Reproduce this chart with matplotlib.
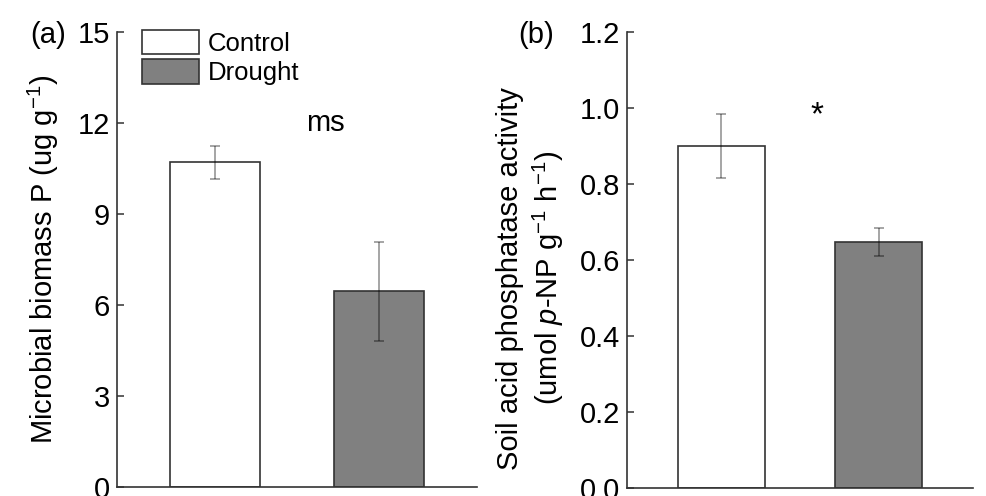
import matplotlib
matplotlib.use("Agg")
import matplotlib.pyplot as plt
from matplotlib.patches import Patch

plt.rcParams['font.family'] = ['Liberation Sans', 'DejaVu Sans']
plt.rcParams['mathtext.fontset'] = 'custom'
plt.rcParams['mathtext.rm'] = 'Liberation Sans'
plt.rcParams['mathtext.it'] = 'Liberation Sans:italic'

treatments = ["Control", "Drought"]
colors = ["white", "#808080"]

mbp_mean = [10.70, 6.45]
mbp_err = [0.55, 1.64]

acp_mean = [0.90, 0.648]
acp_err = [0.085, 0.037]

fig = plt.figure(figsize=(9.87, 4.96), dpi=100)
W, H = 987, 496
ax1 = fig.add_axes([117 / W, 1 - 487 / H, 360 / W, 455 / H])
ax2 = fig.add_axes([627 / W, 1 - 488 / H, 346 / W, 456 / H])

edge = "#333333"
ecol = (0, 0, 0, 0.38)
xs = [1, 2]
FS = 21

def style(ax, ylim, ticks, labels):
    ax.set_xlim(0.4, 2.6)
    ax.set_ylim(*ylim)
    ax.set_yticks(ticks)
    ax.set_yticklabels(labels)
    ax.set_xticks([])
    for s in ["top", "right"]:
        ax.spines[s].set_visible(False)
    for s in ["left", "bottom"]:
        ax.spines[s].set_color(edge)
        ax.spines[s].set_linewidth(1.2)
    ax.tick_params(axis='y', direction='in', length=5, width=1.1, color=edge,
                   labelsize=FS, pad=5)
    ax.patch.set_alpha(0)

for ax, means, errs in [(ax1, mbp_mean, mbp_err), (ax2, acp_mean, acp_err)]:
    ax.bar(xs, means, width=0.55, color=colors, edgecolor=edge, linewidth=1.2, zorder=2)
    ax.errorbar(xs, means, yerr=errs, fmt='none', ecolor=ecol, elinewidth=1.3,
                capsize=3.5, capthick=1.3, zorder=3)

style(ax1, (0, 15), [0, 3, 6, 9, 12, 15], ["0", "3", "6", "9", "12", "15"])
style(ax2, (0, 1.2), [0, 0.2, 0.4, 0.6, 0.8, 1.0, 1.2],
      ["0.0", "0.2", "0.4", "0.6", "0.8", "1.0", "1.2"])

ax1.set_ylabel("Microbial biomass P (ug g$^{-1}$)", fontsize=FS)
ax1.yaxis.set_label_coords((61 - 117) / 360, 0.5)
ax2.set_ylabel("Soil acid phosphatase activity\n(umol $\\mathit{p}$-NP g$^{-1}$ h$^{-1}$)",
               fontsize=FS, linespacing=1.25)
ax2.yaxis.set_label_coords((566 - 627) / 346, 0.46)

ax1.text(1.675, 12.0, "ms", fontsize=FS, ha='center', va='center')
ax2.text(1.607, 0.98, "*", fontsize=FS + 3, ha='center', va='center')

fig.text(30 / W, 1 - 35 / H, "(a)", fontsize=FS, ha='left', va='center')
fig.text(518 / W, 1 - 35 / H, "(b)", fontsize=FS, ha='left', va='center')

handles = [Patch(facecolor=c, edgecolor=edge, linewidth=1.2) for c in colors]
fig.legend(handles, treatments, loc='upper left',
           bbox_to_anchor=(142 / W, 1 - 30 / H), bbox_transform=fig.transFigure,
           frameon=False, fontsize=18.5, handlelength=2.22, handleheight=1.09,
           labelspacing=0.12, handletextpad=0.35, borderpad=0, borderaxespad=0)

fig.savefig("out.png", dpi=100)
